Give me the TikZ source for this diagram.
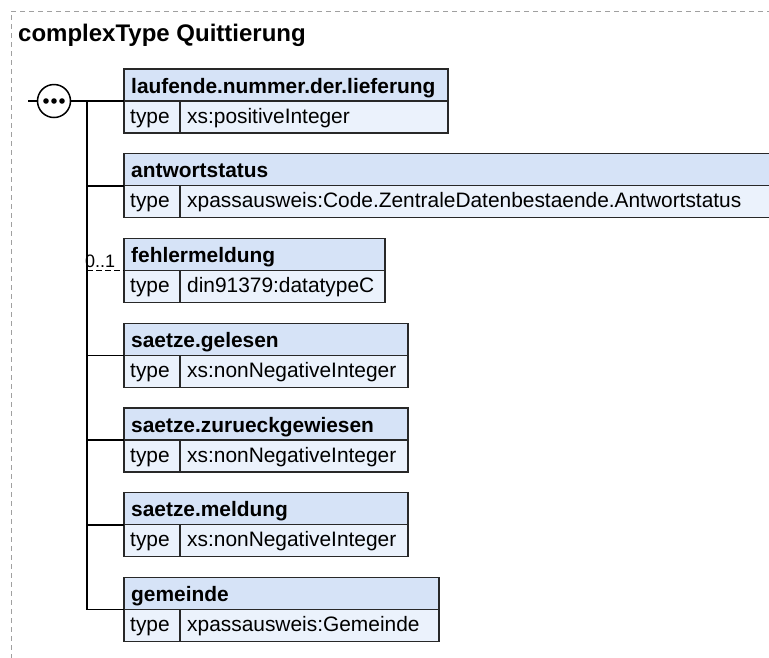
\documentclass[tikz,border=0pt]{standalone}
\usepackage{fontspec}
\setmainfont{Liberation Sans}
\usetikzlibrary{calc}
\definecolor{hdrfill}{RGB}{214,227,247}
\definecolor{typfill}{RGB}{235,242,252}
\definecolor{boxframe}{RGB}{40,40,40}
\definecolor{dashgray}{RGB}{160,160,160}
\newcommand\xelem[5]{%
  \pgfmathsetmacro\xew{#3-124}%
  \pgfmathsetmacro\xvw{#3-180}%
  \node[hdrbox, minimum width=\xew pt] (#1) at (124,#2) {};
  \node[typbox, minimum width=56pt] (#1k) at (#1.south west) {};
  \node[typbox, minimum width=\xvw pt] (#1v) at (#1k.north east) {};
  \node[lbl] (#1n) at ($(#1.south west)+(7,-8)$) {\bfseries #4};
  \node[lbl] (#1kt) at ($(#1k.south west)+(6,-10)$) {type};
  \node[lbl] (#1vt) at ($(#1v.south west)+(7,-10)$) {#5};
}
\begin{document}
\begin{tikzpicture}[x=1pt,y=-1pt,
  hdrbox/.style={draw=boxframe, fill=hdrfill, line width=1.2pt, minimum height=32pt, inner sep=0pt, outer sep=0pt, anchor=north west},
  typbox/.style={draw=boxframe, fill=typfill, line width=1.2pt, minimum height=32pt, inner sep=0pt, outer sep=0pt, anchor=north west},
  lbl/.style={font=\fontsize{20.9}{24}\selectfont, inner sep=0pt, anchor=base west},
  conn/.style={line width=1.5pt, black}]
\useasboundingbox (0,0) rectangle (769,657);
\draw[dashgray, dash pattern=on 5pt off 4pt, line width=1pt] (790,11) -- (11,11) -- (11,690);
\node[anchor=base west, inner sep=0pt, font=\bfseries\fontsize{24}{28}\selectfont] (title) at (18,41.5) {complexType Quittierung};

\xelem{e1}{69}{448}{laufende.nummer.der.lieferung}{xs:positiveInteger}
\xelem{e2}{153.75}{785}{antwortstatus}{xpassausweis:Code.ZentraleDatenbestaende.Antwortstatus}
\xelem{e3}{238.5}{385}{fehlermeldung}{din91379:datatypeC}
\xelem{e4}{323.25}{408}{saetze.gelesen}{xs:nonNegativeInteger}
\xelem{e5}{408}{408}{saetze.zurueckgewiesen}{xs:nonNegativeInteger}
\xelem{e6}{492.75}{408}{saetze.meldung}{xs:nonNegativeInteger}
\xelem{e7}{577.5}{439}{gemeinde}{xpassausweis:Gemeinde}

\coordinate (in) at (28,101);
\coordinate (trunk) at (87,101);
\node[circle, draw=black, fill=white, line width=1.5pt, minimum size=33pt, inner sep=0pt, outer sep=0pt] (seq) at (54,101) {};
\fill (46,101) circle (2.8pt);
\fill (54,101) circle (2.8pt);
\fill (62,101) circle (2.8pt);
\draw[conn] (in) -- (seq.west);
\draw[conn] (seq.east) -- (e1.south west);
\draw[conn] (trunk) -- (trunk |- e7.south west);
\foreach \e in {e2,e4,e5,e6,e7} {
  \draw[conn] (trunk |- \e.south west) -- (\e.south west);
}
\draw[conn, dash pattern=on 6pt off 3pt] (trunk |- e3.south west) -- (e3.south west);
\node[anchor=base west, inner sep=0pt, font=\fontsize{18}{20}\selectfont] (occ3) at (85,267) {0..1};
\end{tikzpicture}
\end{document}
